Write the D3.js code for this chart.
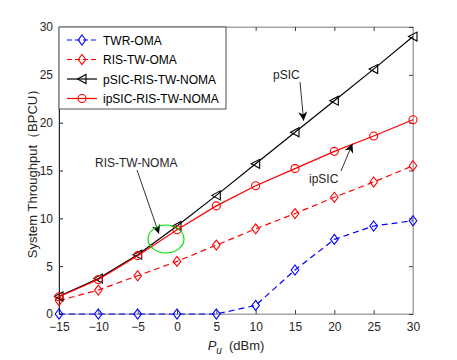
<!DOCTYPE html>
<html>
<head>
<meta charset="utf-8">
<script src="https://cdn.jsdelivr.net/npm/d3@7"></script>
<style>
  body { margin: 0; background: #fff; }
  svg { font-family: "Liberation Sans", Arial, sans-serif; }
</style>
</head>
<body>
<div id="chart"></div>
<script>
const pu = [-15, -10, -5, 0, 5, 10, 15, 20, 25, 30];
const twrOma = [0, 0, 0, 0, 0, 0.9, 4.6, 7.8, 9.2, 9.75];
const risOma = [1.4, 2.5, 4.0, 5.5, 7.2, 8.9, 10.5, 12.2, 13.8, 15.5];
const pSic = [1.85, 3.7, 6.2, 9.2, 12.4, 15.7, 19.0, 22.3, 25.6, 29.0];
const ipSic = [1.8, 3.6, 6.1, 8.8, 11.3, 13.4, 15.2, 17.0, 18.6, 20.3];
const xTicks = [-15, -10, -5, 0, 5, 10, 15, 20, 25, 30];
const yTicks = [0, 5, 10, 15, 20, 25, 30];

const series = [
  {name: "TWR-OMA", values: twrOma, color: "#0000ff", dash: "6,4", marker: "diamond"},
  {name: "RIS-TW-OMA", values: risOma, color: "#ff0000", dash: "6,4", marker: "diamond"},
  {name: "pSIC-RIS-TW-NOMA", values: pSic, color: "#000000", dash: null, marker: "triangle"},
  {name: "ipSIC-RIS-TW-NOMA", values: ipSic, color: "#ff0000", dash: null, marker: "circle"}
];

const W = 457, H = 360;
const margin = {top: 27, right: 44, bottom: 46, left: 59},
      width = W - margin.left - margin.right,
      height = H - margin.top - margin.bottom;

const svg = d3.select("#chart").append("svg")
  .attr("width", W).attr("height", H);
const g = svg.append("g").attr("transform", `translate(${margin.left},${margin.top})`);

const x = d3.scaleLinear().domain([-15, 30]).range([0, width]);
const y = d3.scaleLinear().domain([0, 30]).range([height, 0]);

// box with inward ticks on all sides
g.append("rect").attr("width", width).attr("height", height)
  .attr("fill", "none").attr("stroke", "#a6a6a6").attr("stroke-width", 1);

const xAxis = g.append("g").attr("transform", `translate(0,${height})`)
  .call(d3.axisBottom(x).tickValues(xTicks).tickSizeInner(-4).tickSizeOuter(0).tickPadding(8));
const xTop = g.append("g")
  .call(d3.axisTop(x).tickValues(xTicks).tickSizeInner(-4).tickSizeOuter(0).tickFormat(""));
const yAxis = g.append("g")
  .call(d3.axisLeft(y).tickValues(yTicks).tickSizeInner(-4).tickSizeOuter(0).tickPadding(6));
const yRight = g.append("g").attr("transform", `translate(${width},0)`)
  .call(d3.axisRight(y).tickValues(yTicks).tickSizeInner(-4).tickSizeOuter(0).tickFormat(""));

[xAxis, xTop, yRight].forEach(a => {
  a.select(".domain").attr("stroke", "#a6a6a6");
  a.selectAll(".tick line").attr("stroke", "#404040");
});
yAxis.select(".domain").attr("stroke", "#262626");
yAxis.selectAll(".tick line").attr("stroke", "#262626");
g.selectAll(".tick text").attr("font-size", 12).attr("fill", "#262626")
  .attr("font-family", "Liberation Sans, Arial, sans-serif");

function drawMarker(sel, type, color) {
  if (type === "circle") {
    sel.append("circle").attr("r", 4).attr("fill", "none")
      .attr("stroke", color).attr("stroke-width", 1.1);
  } else if (type === "diamond") {
    sel.append("path").attr("d", "M0,-5L3.8,0L0,5L-3.8,0Z").attr("fill", "none")
      .attr("stroke", color).attr("stroke-width", 1.1);
  } else {
    sel.append("path").attr("d", "M-4.5,0L4,-4.5L4,4.5Z").attr("fill", "none")
      .attr("stroke", color).attr("stroke-width", 1.1);
  }
}

const line = d3.line().x((d, i) => x(pu[i])).y(d => y(d));

series.forEach(s => {
  g.append("path").datum(s.values)
    .attr("fill", "none").attr("stroke", s.color).attr("stroke-width", 1.2)
    .attr("stroke-dasharray", s.dash)
    .attr("d", line);
  s.values.forEach((v, i) => {
    const m = g.append("g").attr("transform", `translate(${x(pu[i])},${y(v)})`);
    drawMarker(m, s.marker, s.color);
  });
});

// legend
const leg = g.append("g");
leg.append("rect").attr("x", 0).attr("y", 0).attr("width", 167).attr("height", 82)
  .attr("fill", "#fff").attr("stroke", "#262626").attr("stroke-width", 0.8);
series.forEach((s, i) => {
  const yy = 13 + i * 19.5;
  leg.append("line").attr("x1", 8).attr("x2", 38).attr("y1", yy).attr("y2", yy)
    .attr("stroke", s.color).attr("stroke-width", 1.2)
    .attr("stroke-dasharray", s.dash ? "5,3" : null);
  const m = leg.append("g").attr("transform", `translate(23,${yy})`);
  drawMarker(m, s.marker, s.color);
  leg.append("text").attr("x", 44).attr("y", yy + 4.5)
    .attr("font-size", 12).attr("fill", "#000").text(s.name);
});

// annotations
const defs = svg.append("defs");
defs.append("marker").attr("id", "ah").attr("viewBox", "0 0 10 10")
  .attr("refX", 10).attr("refY", 5).attr("markerWidth", 9).attr("markerHeight", 9)
  .attr("markerUnits", "userSpaceOnUse").attr("orient", "auto")
  .append("path").attr("d", "M0,0L10,5L0,10L3,5Z").attr("fill", "#000");

function annotate(label, tx, ty, x1, y1, x2, y2) {
  svg.append("text").attr("x", tx).attr("y", ty).attr("font-size", 12)
    .attr("fill", "#262626").text(label);
  svg.append("line").attr("x1", x1).attr("y1", y1).attr("x2", x2).attr("y2", y2)
    .attr("stroke", "#000").attr("stroke-width", 0.8).attr("marker-end", "url(#ah)");
}
annotate("pSIC", 273, 79, 300, 82, x(16.1) + margin.left, y(20.2) + margin.top);
annotate("ipSIC", 309, 183, 341, 171, x(22.3) + margin.left, y(17.8) + margin.top);
annotate("RIS-TW-NOMA", 95, 167, 137, 170, x(-2.3) + margin.left, y(8.4) + margin.top);

svg.append("ellipse").attr("cx", 166).attr("cy", 239).attr("rx", 18).attr("ry", 14)
  .attr("fill", "none").attr("stroke", "#00e000").attr("stroke-width", 1.2);

// axis labels
svg.append("text")
  .attr("transform", `translate(37,${margin.top + height / 2}) rotate(-90)`)
  .attr("text-anchor", "middle").attr("font-size", 13).attr("fill", "#262626")
  .text("System Throughput（BPCU）");

const xl = svg.append("text").attr("x", margin.left + width / 2).attr("y", 350)
  .attr("text-anchor", "middle").attr("font-size", 13).attr("fill", "#262626");
xl.append("tspan").attr("font-style", "italic").text("P");
xl.append("tspan").attr("font-style", "italic").attr("font-size", 10).attr("dy", 4).text("u");
xl.append("tspan").attr("dy", -4).attr("dx", 7).text("(dBm)");
</script>
</body>
</html>
